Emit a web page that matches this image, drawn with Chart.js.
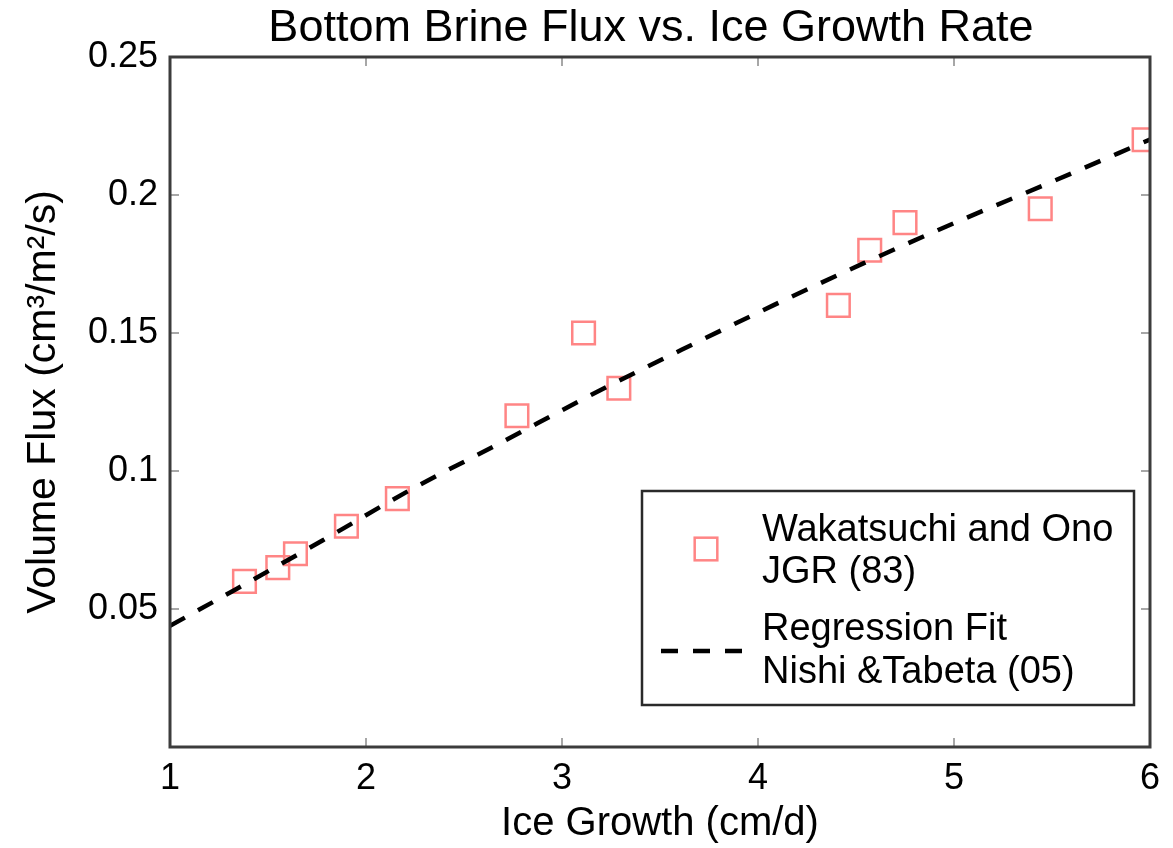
<!DOCTYPE html>
<html>
<head>
<meta charset="utf-8">
<script src="https://cdn.jsdelivr.net/npm/chart.js@4.4.1/dist/chart.umd.min.js"></script>
<style>
  html, body { margin: 0; padding: 0; background: #fff; }
  #wrap { width: 1173px; height: 848px; position: relative; }
</style>
</head>
<body>
<div id="wrap"><canvas id="c" width="1173" height="848"></canvas></div>
<script>
// Observed brine flux (Wakatsuchi and Ono, JGR 1983)
const growthObs = [1.38, 1.55, 1.64, 1.90, 2.16, 2.77, 3.11, 3.29, 4.41, 4.57, 4.75, 5.44, 5.97];
const fluxObs   = [0.060, 0.065, 0.070, 0.080, 0.090, 0.120, 0.150, 0.130, 0.160, 0.180, 0.190, 0.195, 0.220];

// Regression curve (Nishi & Tabeta 2005), sampled along the fit
const growthFit = [1.00, 1.33, 1.78, 2.23, 2.69, 3.15, 3.61, 4.08, 4.54, 5.02, 5.49, 6.00];
const fluxFit   = [0.0439, 0.0569, 0.0749, 0.0933, 0.1103, 0.1276, 0.1439, 0.1601, 0.1753, 0.1904, 0.2045, 0.2201];

// Axis ticks
const xTicks = [1, 2, 3, 4, 5, 6];
const yTicks = [0, 0.05, 0.1, 0.15, 0.2, 0.25];

const titleText = 'Bottom Brine Flux vs. Ice Growth Rate';
const xTitle = 'Ice Growth (cm/d)';
const yTitle = 'Volume Flux (cm³/m²/s)';
const legendText = [
  ['Wakatsuchi and Ono', 'JGR (83)'],
  ['Regression Fit', 'Nishi &Tabeta (05)']
];

const FONT = "'Liberation Sans', Arial, Helvetica, sans-serif";

// Plot title drawn centred above the axes
const titlePlugin = {
  id: 'plotTitle',
  afterDraw(chart) {
    const ctx = chart.ctx;
    ctx.save();
    ctx.font = `45px ${FONT}`;
    ctx.fillStyle = '#000';
    ctx.textAlign = 'center';
    ctx.textBaseline = 'middle';
    ctx.fillText(titleText, 651, 29);
    ctx.restore();
  }
};

// Axes box with inward tick marks on all four sides
const framePlugin = {
  id: 'axesFrame',
  afterDatasetsDraw(chart) {
    const { ctx, chartArea: a, scales: { x, y } } = chart;
    ctx.save();
    ctx.strokeStyle = '#8a8a8a';
    ctx.lineWidth = 1.5;
    const len = 9;
    ctx.beginPath();
    xTicks.forEach(v => {
      const px = x.getPixelForValue(v);
      ctx.moveTo(px, a.bottom); ctx.lineTo(px, a.bottom - len);
      ctx.moveTo(px, a.top);    ctx.lineTo(px, a.top + len);
    });
    yTicks.forEach(v => {
      const py = y.getPixelForValue(v);
      ctx.moveTo(a.left, py);  ctx.lineTo(a.left + len, py);
      ctx.moveTo(a.right, py); ctx.lineTo(a.right - len, py);
    });
    ctx.stroke();
    ctx.strokeStyle = '#3c3c3c';
    ctx.lineWidth = 3;
    ctx.strokeRect(a.left, a.top, a.right - a.left, a.bottom - a.top);
    ctx.restore();
  }
};

// Boxed legend inside the lower right of the axes
const legendPlugin = {
  id: 'boxLegend',
  afterDraw(chart) {
    const ctx = chart.ctx;
    const fit = chart.data.datasets[0];
    const obs = chart.data.datasets[1];
    const box = { l: 642, t: 491, r: 1134, b: 705 };
    ctx.save();
    ctx.fillStyle = '#fff';
    ctx.fillRect(box.l, box.t, box.r - box.l, box.b - box.t);
    ctx.strokeStyle = '#2a2a2a';
    ctx.lineWidth = 2.5;
    ctx.strokeRect(box.l, box.t, box.r - box.l, box.b - box.t);

    // square marker sample
    const side = obs.pointRadius * Math.SQRT2;
    ctx.strokeStyle = obs.borderColor;
    ctx.lineWidth = obs.borderWidth;
    ctx.strokeRect(706 - side / 2, 549 - side / 2, side, side);

    // dashed line sample
    ctx.strokeStyle = fit.borderColor;
    ctx.lineWidth = fit.borderWidth;
    ctx.setLineDash(fit.borderDash);
    ctx.beginPath();
    ctx.moveTo(661, 651);
    ctx.lineTo(746, 651);
    ctx.stroke();
    ctx.setLineDash([]);

    ctx.fillStyle = '#000';
    ctx.font = `38px ${FONT}`;
    ctx.textAlign = 'left';
    ctx.textBaseline = 'middle';
    const rows = [531, 573, 630, 673];
    const lines = [legendText[0][0], legendText[0][1], legendText[1][0], legendText[1][1]];
    lines.forEach((s, i) => ctx.fillText(s, 762, rows[i]));
    ctx.restore();
  }
};

new Chart(document.getElementById('c'), {
  data: {
    datasets: [
      {
        type: 'line',
        label: 'Regression Fit Nishi &Tabeta (05)',
        data: growthFit.map((g, i) => ({ x: g, y: fluxFit[i] })),
        borderColor: '#000',
        borderWidth: 4.5,
        borderDash: [17, 15],
        pointRadius: 0,
        fill: false,
        cubicInterpolationMode: 'monotone',
        order: 0
      },
      {
        type: 'scatter',
        label: 'Wakatsuchi and Ono JGR (83)',
        data: growthObs.map((g, i) => ({ x: g, y: fluxObs[i] })),
        pointStyle: 'rect',
        pointRadius: 16,
        borderColor: '#ff8585',
        borderWidth: 2.5,
        backgroundColor: 'rgba(0,0,0,0)',
        order: 1
      }
    ]
  },
  options: {
    responsive: false,
    animation: false,
    devicePixelRatio: 1,
    layout: { padding: { top: 57, right: 23, left: 0, bottom: 0 } },
    plugins: {
      legend: { display: false },
      tooltip: { enabled: false },
      title: { display: false }
    },
    scales: {
      x: {
        type: 'linear',
        min: 1,
        max: 6,
        afterBuildTicks: s => { s.ticks = xTicks.map(v => ({ value: v })); },
        afterFit: s => { s.height = 101; },
        grid: { display: false, drawTicks: false },
        border: { display: false },
        ticks: {
          color: '#000',
          padding: 10,
          font: { family: FONT, size: 36 },
          maxRotation: 0,
          callback: v => String(v)
        },
        title: {
          display: true,
          text: xTitle,
          color: '#000',
          font: { family: FONT, size: 40 },
          padding: { top: 0, bottom: 0 }
        }
      },
      y: {
        type: 'linear',
        min: 0,
        max: 0.25,
        afterBuildTicks: s => { s.ticks = yTicks.map(v => ({ value: v })); },
        afterFit: s => { s.width = 170; },
        grid: { display: false, drawTicks: false },
        border: { display: false },
        ticks: {
          color: '#000',
          padding: 12,
          font: { family: FONT, size: 36 },
          callback: v => (v === 0 ? '' : String(v))
        },
        title: {
          display: true,
          text: yTitle,
          color: '#000',
          font: { family: FONT, size: 41 },
          padding: { top: 19, bottom: 0 }
        }
      }
    }
  },
  plugins: [framePlugin, legendPlugin, titlePlugin]
});
</script>
</body>
</html>
